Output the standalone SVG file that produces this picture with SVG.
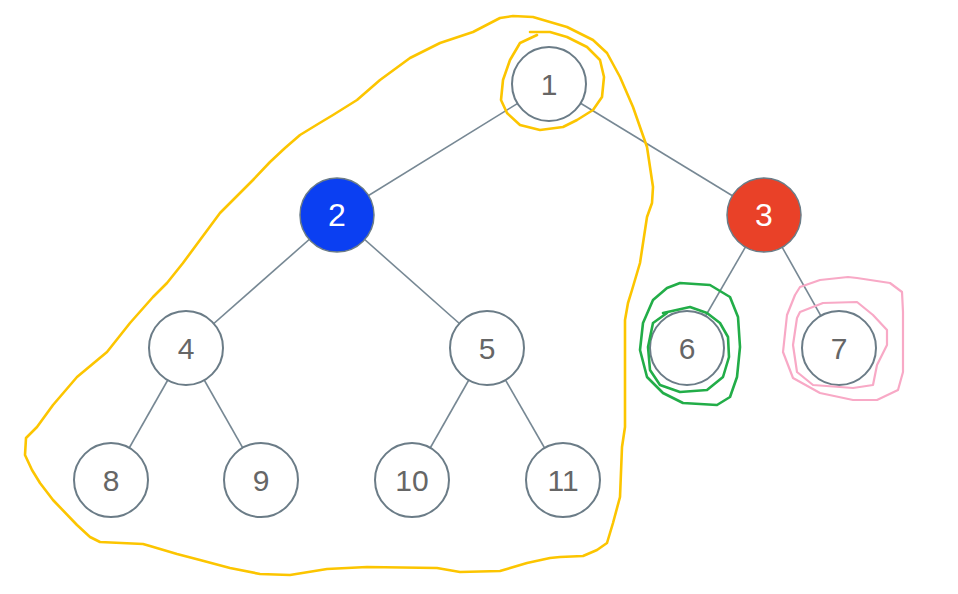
<svg xmlns="http://www.w3.org/2000/svg" width="958" height="594" viewBox="0 0 958 594">
<style>
.edge{stroke:#778894;stroke-width:1.6;fill:none}
.node circle{fill:#fff;stroke:#6b7c87;stroke-width:2}
.node text{font-family:"Liberation Sans",Arial,sans-serif;font-size:30px;fill:#666;text-anchor:middle;dominant-baseline:central}
.node.blue circle{fill:#0b3ff2;stroke:#6b7c87;stroke-width:1.5}
.node.red circle{fill:#e94128;stroke:#6b7c87;stroke-width:1.5}
.node.blue text,.node.red text{fill:#fff;font-size:32px}
.mark{fill:none;stroke-linecap:round;stroke-linejoin:round}
.yellow{stroke:#fcc500;stroke-width:2.6}
.green{stroke:#22ad48;stroke-width:2.6}
.pink{stroke:#f8a9c6;stroke-width:2.2}
</style>
<rect width="958" height="594" fill="#fff"/>
<g id="connectors">
<line class="edge" x1="549" y1="84" x2="337" y2="215"/>
<line class="edge" x1="549" y1="84" x2="764" y2="215"/>
<line class="edge" x1="337" y1="215" x2="186" y2="348"/>
<line class="edge" x1="337" y1="215" x2="487" y2="348"/>
<line class="edge" x1="764" y1="215" x2="687" y2="348"/>
<line class="edge" x1="764" y1="215" x2="839" y2="348"/>
<line class="edge" x1="186" y1="348" x2="111" y2="480"/>
<line class="edge" x1="186" y1="348" x2="261" y2="480"/>
<line class="edge" x1="487" y1="348" x2="412" y2="480"/>
<line class="edge" x1="487" y1="348" x2="563" y2="480"/>
</g>
<g id="n1" class="node"><circle cx="549" cy="84" r="37"/><text x="549" y="84">1</text></g>
<g id="n2" class="node blue"><circle cx="337" cy="215" r="37"/><text x="337" y="215">2</text></g>
<g id="n3" class="node red"><circle cx="764" cy="215" r="37"/><text x="764" y="215">3</text></g>
<g id="n4" class="node"><circle cx="186" cy="348" r="37"/><text x="186" y="348">4</text></g>
<g id="n5" class="node"><circle cx="487" cy="348" r="37"/><text x="487" y="348">5</text></g>
<g id="n6" class="node"><circle cx="687" cy="348" r="37"/><text x="687" y="348">6</text></g>
<g id="n7" class="node"><circle cx="839" cy="348" r="37"/><text x="839" y="348">7</text></g>
<g id="n8" class="node"><circle cx="111" cy="480" r="37"/><text x="111" y="480">8</text></g>
<g id="n9" class="node"><circle cx="261" cy="480" r="37"/><text x="261" y="480">9</text></g>
<g id="n10" class="node"><circle cx="412" cy="480" r="37"/><text x="412" y="480">10</text></g>
<g id="n11" class="node"><circle cx="563" cy="480" r="37"/><text x="563" y="480">11</text></g>
<g id="annotations">
<path class="mark yellow" d="M300,135 L318,124 L333,115 L357,100 L380,80 L410,58 L440,43 L473,32 L500,18 L513,16 L533,17 L567,27 L593,40 L607,53 L620,77 L633,107 L647,147 L653,187 L652,203 L647,217 L640,263 L632,290 L628,303 L625,320 L625,427 L622,447 L620,497 L613,523 L607,543 L597,550 L583,556 L560,557 L550,558 L527,563 L500,571 L460,572 L437,568 L367,567 L327,569 L290,575 L260,574 L230,568 L200,560 L177,554 L150,546 L143,544 L100,542 L90,537 L77,525 L53,500 L40,483 L32,470 L25,455 L26,438 L37,427 L53,405 L77,377 L107,352 L130,323 L153,297 L167,283 L183,263 L200,240 L220,213 L253,180 L270,162 L285,148 Z"/>
<path class="mark yellow" d="M530,32 L550,32 L567,37 L587,47 L600,60 L604,77 L602,97 L593,110 L577,120 L563,127 L540,130 L520,125 L507,113 L501,100 L503,80 L510,60 L520,43 L537,35"/>
<path class="mark green" d="M680,283 L710,285 L730,297 L738,317 L740,347 L737,377 L730,397 L717,405 L683,403 L663,393 L647,377 L640,350 L643,323 L653,300 L667,288 Z"/>
<path class="mark green" d="M663,313 L690,307 L707,313 L720,323 L728,337 L729,357 L723,377 L707,390 L680,392 L660,385 L650,370 L648,347 L653,323 L667,313"/>
<path class="mark pink" d="M800,287 L820,280 L848,277 L857,278 L890,283 L902,292 L903,312 L903,372 L898,390 L877,400 L853,400 L820,393 L793,378 L783,352 L787,315 L795,295 Z"/>
<path class="mark pink" d="M800,312 L823,303 L857,302 L873,315 L887,330 L887,345 L877,365 L873,385 L853,388 L813,385 L797,372 L793,345 L797,318 Z"/>
</g>
</svg>
